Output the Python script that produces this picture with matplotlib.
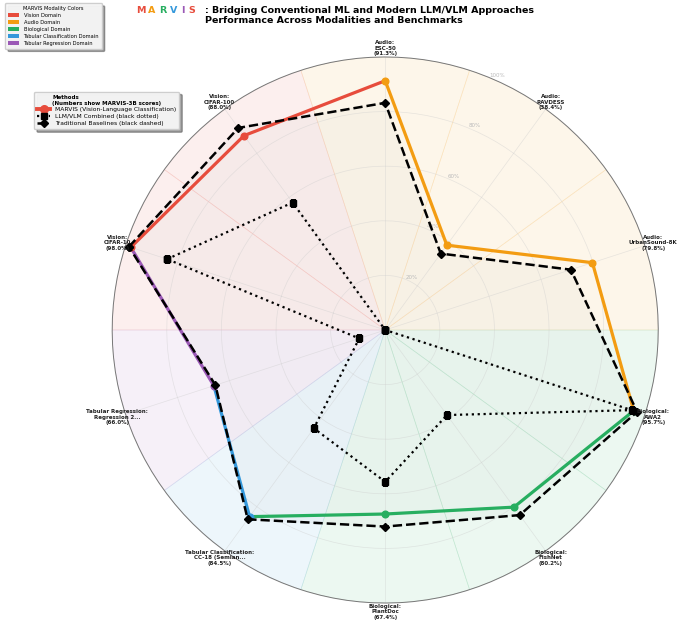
import numpy as np
import matplotlib
matplotlib.use("Agg")
import matplotlib.pyplot as plt
from matplotlib.lines import Line2D
from matplotlib.patches import Patch
from matplotlib.colors import to_rgba

# ---------------- data ----------------
categories = ['CIFAR-10', 'CIFAR-100', 'ESC-50', 'RAVDESS', 'UrbanSound-8K',
              'AWA2', 'FishNet', 'PlantDoc', 'CC-18 (Semian...', 'Regression 2...']
domains = ['Vision', 'Vision', 'Audio', 'Audio', 'Audio',
           'Biological', 'Biological', 'Biological',
           'Tabular Classification', 'Tabular Regression']
marvis = [98.0, 88.0, 91.3, 38.4, 79.8, 95.7, 80.2, 67.4, 84.5, 66.0]
llm_vlm = [84.0, 57.7, 0.0, 0.0, 0.0, 95.0, 38.5, 55.6, 44.5, 10.0]
traditional = [98.7, 91.5, 83.2, 34.6, 71.5, 97.0, 83.8, 72.0, 85.7, 65.4]

domain_names = ['Vision', 'Audio', 'Biological', 'Tabular Classification', 'Tabular Regression']
domain_colors = ['#e74c3c', '#f39c12', '#27ae60', '#3498db', '#9b59b6']
r_ticks = [20, 40, 60, 80, 100]
r_ticklabels = ['20%', '40%', '60%', '80%', '100%']
title_letters = ['M', 'A', 'R', 'V', 'I', 'S']
title_letter_colors = ['#e74c3c', '#f39c12', '#27ae60', '#3498db', '#9b59b6', '#e74c3c']

cmap = dict(zip(domain_names, domain_colors))

# ---------------- figure ----------------
fig = plt.figure(figsize=(6.8, 6.25), dpi=100)
ax = fig.add_axes([0.165, 0.035, 0.803, 0.874], projection='polar')

N = len(categories)
angles = np.linspace(0, 2 * np.pi, N, endpoint=False)
ax.set_theta_direction(-1)
ax.set_theta_offset(np.deg2rad(162))
ax.set_ylim(0, 100)

# background sectors
width = 2 * np.pi / N
for a, d in zip(angles, domains):
    c = cmap[d]
    ax.bar(a, 100, width=width, bottom=0, facecolor=to_rgba(c, 0.085),
           edgecolor=to_rgba(c, 0.12), linewidth=0.5, zorder=0)

# grid
ax.set_xticks(angles)
ax.set_xticklabels([])
ax.set_yticks(r_ticks)
ax.set_yticklabels(r_ticklabels, fontsize=4, color='#bbbbbb')
ax.set_rlabel_position(72 + 22.5)
ax.grid(True, color='#cccccc', alpha=0.45, linewidth=0.5)
ax.spines['polar'].set_color('#777777')
ax.spines['polar'].set_linewidth(0.7)
ax.tick_params(axis='y', pad=0)

th = np.concatenate([angles, angles[:1]])

# traditional fill
ax.fill(th, traditional + traditional[:1], color='#888888', alpha=0.045, zorder=1)

# MARVIS segments coloured by domain
for i in range(N):
    j = (i + 1) % N
    ax.plot([angles[i], angles[j] if j else 2 * np.pi], [marvis[i], marvis[j]],
            color=cmap[domains[i]], linewidth=2.3, solid_capstyle='round', zorder=3)
for a, v, d in zip(angles, marvis, domains):
    ax.plot([a], [v], 'o', color=cmap[d], markersize=4.8, zorder=4)

# LLM/VLM combined
ax.plot(th, llm_vlm + llm_vlm[:1], color='black', linestyle=':', linewidth=1.6,
        marker='s', markersize=4.8, zorder=5)
# Traditional baselines
ax.plot(th, traditional + traditional[:1], color='black', linestyle='--', linewidth=1.8,
        marker='D', markersize=4.2, zorder=6)

# category labels
for a, cat, d, v in zip(angles, categories, domains, marvis):
    ax.text(a, 103.2, f"{d}:\n{cat}\n({v:.1f}%)", ha='center', va='center',
            fontsize=4, fontweight='bold', color='#222222', linespacing=1.1, zorder=10)

# title
ty = 1 - 6 / 625
fig.text(205 / 680, ty,
         ": Bridging Conventional ML and Modern LLM/VLM Approaches\nPerformance Across Modalities and Benchmarks",
         ha='left', va='top', fontsize=6.8, fontweight='bold', linespacing=1.15)
xs = [141, 151.5, 162.5, 173.5, 183, 191.5]
for x, ch, c in zip(xs, title_letters, title_letter_colors):
    fig.text(x / 680, ty, ch, ha='center', va='top', fontsize=6.8,
             fontweight='bold', color=c)

# legend 1: modality colours
patches = [Patch(facecolor=c, edgecolor='none', label=f"{n} Domain")
           for n, c in zip(domain_names, domain_colors)]
leg1 = fig.legend(handles=patches, title='MARVIS Modality Colors', loc='upper left',
                  bbox_to_anchor=(0.004, 0.999), fontsize=3.7, title_fontsize=3.7,
                  frameon=True, fancybox=True, shadow=True, handlelength=2.2,
                  handleheight=0.9, labelspacing=0.38, borderpad=0.55, framealpha=0.95,
                  facecolor='#f7f7f7', edgecolor='#cccccc')

# legend 2: methods
handles = [
    Line2D([0], [0], color='#e74c3c', linewidth=2.8, marker='o', markersize=5.5,
           label='MARVIS (Vision-Language Classification)'),
    Line2D([0], [0], color='black', linestyle=':', linewidth=1.6, marker='s', markersize=4.5,
           label='LLM/VLM Combined (black dotted)'),
    Line2D([0], [0], color='black', linestyle='--', linewidth=1.8, marker='D', markersize=4,
           label='Traditional Baselines (black dashed)'),
]
leg2 = fig.legend(handles=handles, title='Methods\n(Numbers show MARVIS-3B scores)',
                  loc='upper left', bbox_to_anchor=(0.046, 0.858), fontsize=4.3,
                  frameon=True, fancybox=True, shadow=True, handlelength=2.2,
                  labelspacing=0.3, borderpad=0.5, framealpha=0.95,
                  facecolor='#f7f7f7', edgecolor='#cccccc')
leg2.get_title().set_fontsize(4.0)
leg2.get_title().set_fontweight('bold')
leg2.get_title().set_multialignment('left')

fig.savefig('out.png', dpi=100)
